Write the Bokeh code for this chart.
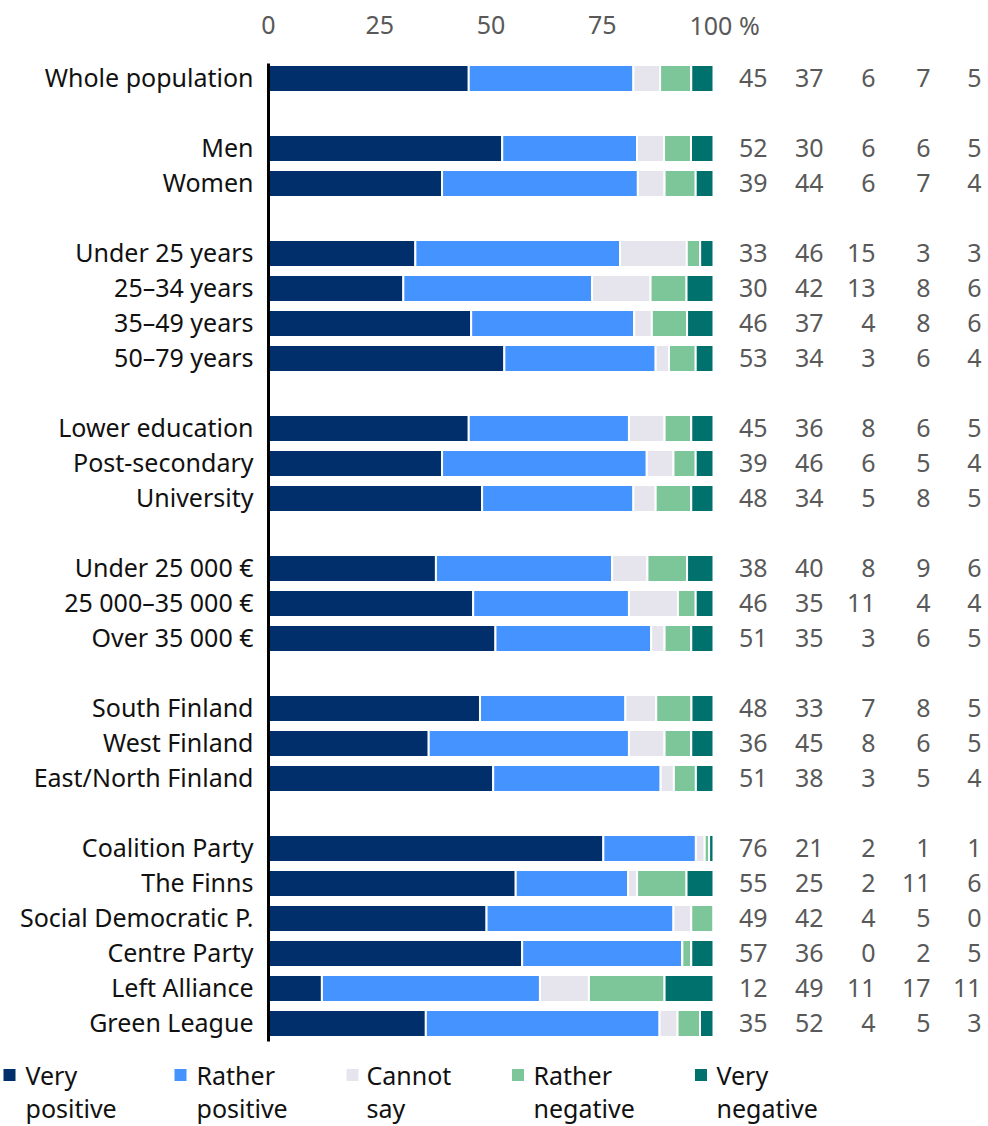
from bokeh.plotting import figure
from bokeh.models import ColumnDataSource, Range1d
from bokeh.core.properties import value
from bokeh.embed import file_html
from bokeh.resources import INLINE

# ---------------- data ----------------
categories = [
    "Whole population",
    "Men", "Women",
    "Under 25 years", "25–34 years", "35–49 years", "50–79 years",
    "Lower education", "Post-secondary", "University",
    "Under 25 000 €", "25 000–35 000 €", "Over 35 000 €",
    "South Finland", "West Finland", "East/North Finland",
    "Coalition Party", "The Finns", "Social Democratic P.", "Centre Party",
    "Left Alliance", "Green League",
]
groups = [1, 2, 4, 3, 3, 3, 6]  # rows per group

series_names = ["Very positive", "Rather positive", "Cannot say", "Rather negative", "Very negative"]
very_positive   = [45, 52, 39, 33, 30, 46, 53, 45, 39, 48, 38, 46, 51, 48, 36, 51, 76, 55, 49, 57, 12, 35]
rather_positive = [37, 30, 44, 46, 42, 37, 34, 36, 46, 34, 40, 35, 35, 33, 45, 38, 21, 25, 42, 36, 49, 52]
cannot_say      = [6, 6, 6, 15, 13, 4, 3, 8, 6, 5, 8, 11, 3, 7, 8, 3, 2, 2, 4, 0, 11, 4]
rather_negative = [7, 6, 7, 3, 8, 8, 6, 6, 5, 8, 9, 4, 6, 8, 6, 5, 1, 11, 5, 2, 17, 5]
very_negative   = [5, 5, 4, 3, 6, 6, 4, 5, 4, 5, 6, 4, 5, 5, 5, 4, 1, 6, 0, 5, 11, 3]
tick_values = [0, 25, 50, 75, 100]
tick_labels = ["0", "25", "50", "75", "100 %"]

series = [very_positive, rather_positive, cannot_say, rather_negative, very_negative]
colors = ["#002F6C", "#4493FF", "#E6E4EC", "#7CC69A", "#00716C"]

# ---------------- layout ----------------
W, H = 988, 1126
PX_PER_UNIT = 4.45          # 100 units = 445 px
X0_CANVAS = 268             # canvas x of value 0
ROW_PX = 35
ROW0_CANVAS = 78

def px(page_x):
    return (page_x - X0_CANVAS) / PX_PER_UNIT

def slot(page_y):
    return (page_y - ROW0_CANVAS) / ROW_PX

# row slot positions with a blank slot between groups
slots = []
s = 0
for g in groups:
    for _ in range(g):
        slots.append(s)
        s += 1
    s += 1

p = figure(width=W, height=H, output_backend="svg", toolbar_location=None,
           x_range=Range1d(-X0_CANVAS / PX_PER_UNIT, (W - X0_CANVAS) / PX_PER_UNIT),
           y_range=Range1d((H - ROW0_CANVAS) / ROW_PX, -ROW0_CANVAS / ROW_PX),
           min_border=0)
p.xaxis.visible = False
p.yaxis.visible = False
p.xgrid.visible = False
p.ygrid.visible = False
p.outline_line_color = None
p.background_fill_color = "white"
p.border_fill_color = "white"

FONT = value("Noto Sans")

# stacked bars (normalised to 100 %)
totals = [sum(v[i] for v in series) for i in range(len(categories))]
left = [0.0] * len(categories)
for vals, col, name in zip(series, colors, series_names):
    share = [v / t * 100 for v, t in zip(vals, totals)]
    right = [l + sh for l, sh in zip(left, share)]
    src = ColumnDataSource(dict(y=slots, left=left, right=right))
    p.hbar(y="y", left="left", right="right", height=0.77, source=src,
           fill_color=col, line_color="white", line_width=2)
    left = right

# vertical axis line
p.segment(x0=[0], y0=[slot(63)], x1=[0], y1=[slot(1041)], line_color="black", line_width=3)

# category labels
p.text(x=[0] * len(categories), y=slots, text=categories, x_offset=-15, y_offset=-2,
       text_align="right", text_baseline="middle", text_font=FONT,
       text_font_size="25px", text_color="#111111")

# value columns
col_right = [767, 823, 875, 930, 981]
for vals, cx in zip(series, col_right):
    p.text(x=[px(cx)] * len(vals), y=slots, text=[str(v) for v in vals], y_offset=-1,
           text_align="right", text_baseline="middle", text_font=FONT,
           text_font_size="25px", text_color="#595959")

# top tick labels
ty = slot(24)
p.text(x=tick_values[:-1], y=[ty] * 4, text=tick_labels[:-1], text_align="center",
       text_baseline="middle", text_font=FONT, text_font_size="25px", text_color="#595959")
p.text(x=[tick_values[-1]], y=[ty], text=[tick_labels[-1]], x_offset=-24, text_align="left",
       text_baseline="middle", text_font=FONT, text_font_size="25px", text_color="#595959")

# legend
sq_x = [9, 180, 352, 517.5, 700.5]
txt_x = [25, 196, 366, 533, 716]
line1 = [n.split(" ", 1)[0] for n in series_names]
line2 = [n.split(" ", 1)[1] for n in series_names]
p.scatter(x=[px(v) for v in sq_x], y=[slot(1074.5)] * 5, marker="square", size=12,
          fill_color=colors, line_color=None)
p.text(x=[px(v) for v in txt_x], y=[slot(1074)] * 5, text=line1, text_align="left",
       text_baseline="middle", text_font=FONT, text_font_size="25px", text_color="#111111")
p.text(x=[px(v) for v in txt_x], y=[slot(1107)] * 5, text=line2, text_align="left",
       text_baseline="middle", text_font=FONT, text_font_size="25px", text_color="#111111")

open("out.html", "w").write(file_html(p, INLINE))
